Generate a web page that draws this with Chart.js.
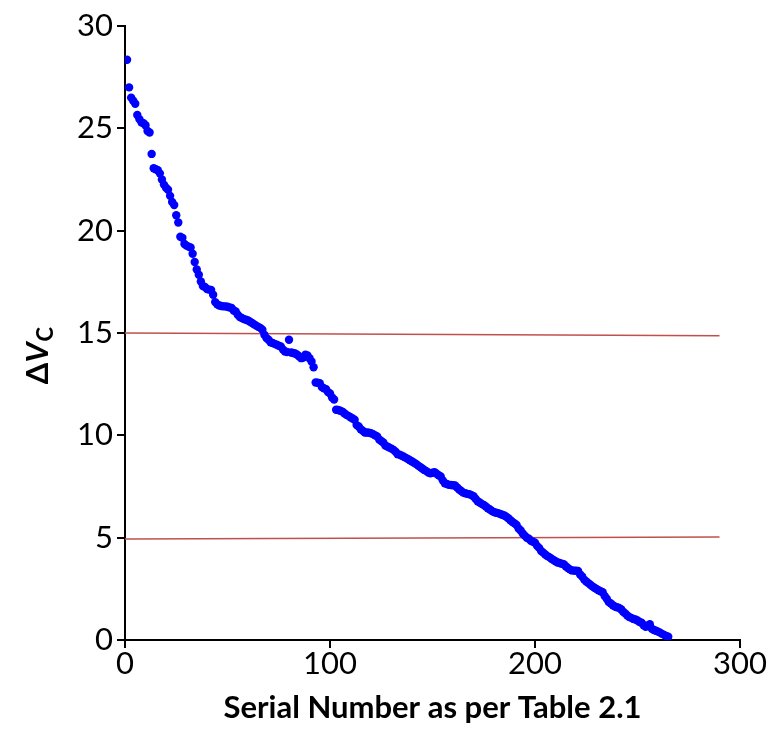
<!DOCTYPE html>
<html>
<head>
<meta charset="utf-8">
<script src="https://cdn.jsdelivr.net/npm/chart.js@4/dist/chart.umd.min.js"></script>
<style>
    html, body { margin: 0; padding: 0; background: #fff; }
    #wrap { width: 773px; height: 745px; }
</style>
</head>
<body>
<div id="wrap"><canvas id="dvcChart" width="773" height="745"></canvas></div>
<script>
// Delta Vc values, one per serial number (1 .. 265)
const dVc = [
    28.35, 27.0, 26.5, 26.35, 26.2, 25.65, 25.45, 25.3, 25.25, 25.15,
    24.87, 24.8, 23.75, 23.05, 23.0, 22.95, 22.8, 22.5, 22.25, 22.1,
    22.0, 21.7, 21.4, 21.25, 20.75, 20.4, 19.7, 19.65, 19.35, 19.27,
    19.22, 19.18, 18.87, 18.47, 18.1, 17.85, 17.52, 17.3, 17.25, 17.15,
    17.12, 17.1, 16.87, 16.51, 16.4, 16.34, 16.32, 16.3, 16.3, 16.28,
    16.25, 16.22, 16.1, 16.05, 15.89, 15.78, 15.73, 15.68, 15.65, 15.61,
    15.55, 15.49, 15.42, 15.36, 15.3, 15.25, 15.16, 14.91, 14.75, 14.67,
    14.55, 14.51, 14.47, 14.43, 14.38, 14.34, 14.2, 14.1, 14.07, 14.67,
    14.05, 14.02, 14.0, 13.94, 13.85, 13.77, 13.8, 13.94, 13.9, 13.77,
    13.61, 13.33, 12.58, 12.57, 12.55, 12.36, 12.3, 12.26, 12.12, 12.05,
    11.85, 11.75, 11.25, 11.24, 11.2, 11.16, 11.08, 11.0, 10.95, 10.88,
    10.82, 10.76, 10.5, 10.43, 10.3, 10.22, 10.14, 10.14, 10.13, 10.1,
    10.06, 10.0, 9.95, 9.8, 9.72, 9.65, 9.5, 9.45, 9.4, 9.35,
    9.29, 9.2, 9.08, 9.05, 9.0, 8.95, 8.9, 8.84, 8.78, 8.72,
    8.66, 8.6, 8.52, 8.45, 8.38, 8.31, 8.25, 8.18, 8.15, 8.17,
    8.2, 8.12, 8.05, 7.99, 7.8, 7.66, 7.62, 7.58, 7.57, 7.56,
    7.55, 7.45, 7.35, 7.28, 7.2, 7.17, 7.14, 7.12, 7.08, 7.02,
    6.9, 6.78, 6.72, 6.65, 6.6, 6.52, 6.44, 6.38, 6.3, 6.25,
    6.22, 6.2, 6.16, 6.12, 6.08, 6.02, 5.95, 5.85, 5.77, 5.7,
    5.62, 5.45, 5.35, 5.2, 5.1, 5.0, 4.95, 4.85, 4.8, 4.75,
    4.6, 4.5, 4.35, 4.27, 4.18, 4.1, 4.05, 3.97, 3.91, 3.85,
    3.79, 3.76, 3.73, 3.7, 3.6, 3.52, 3.45, 3.4, 3.39, 3.38,
    3.37, 3.2, 3.1, 2.95, 2.86, 2.78, 2.7, 2.62, 2.55, 2.49,
    2.43, 2.38, 2.33, 2.15, 2.02, 1.85, 1.78, 1.7, 1.63, 1.6,
    1.57, 1.5, 1.38, 1.3, 1.2, 1.12, 1.08, 1.03, 1.0, 0.95,
    0.88, 0.84, 0.72, 0.65, 0.7, 0.77, 0.55, 0.49, 0.45, 0.41,
    0.36, 0.3, 0.25, 0.2, 0.16
];

// the two red reference lines (start / end of each)
const limitX = [0, 290];
const upperLimit = [15.0, 14.87];
const lowerLimit = [4.93, 5.03];

const xTicks = [0, 100, 200, 300];
const yTicks = [0, 5, 10, 15, 20, 25, 30];

const FONT = 'Lato, "Open Sans", sans-serif';

// y axis title: Delta, italic V, subscript C  (drawn by hand, Chart.js titles can't do rich text)
const yTitlePlugin = {
    id: 'yTitle',
    afterDraw(chart) {
        const ctx = chart.ctx;
        const midY = (chart.chartArea.top + chart.chartArea.bottom) / 2 + 23;
        ctx.save();
        ctx.translate(38, midY);
        ctx.rotate(-Math.PI / 2);
        ctx.fillStyle = '#000';
        ctx.textBaseline = 'alphabetic';
        const big = 'bold 31px ' + FONT;
        const bigIt = 'italic bold 31px ' + FONT;
        const small = 'bold 22px ' + FONT;
        ctx.font = big; const w1 = ctx.measureText('\u0394').width;
        ctx.font = bigIt; const w2 = ctx.measureText('V').width;
        ctx.font = small; const w3 = ctx.measureText('C').width;
        let x = -(w1 + w2 + w3) / 2;
        ctx.font = big; ctx.fillText('\u0394', x, 10); x += w1;
        ctx.font = bigIt; ctx.fillText('V', x, 10); x += w2;
        ctx.font = small; ctx.fillText('C', x + 1, 15);
        ctx.restore();
    }
};

const points = dVc.map((v, i) => ({ x: i + 1, y: v }));

new Chart(document.getElementById('dvcChart').getContext('2d'), {
    type: 'scatter',
    data: {
        datasets: [
            {
                data: points,
                backgroundColor: '#0000FF',
                borderWidth: 0,
                pointRadius: 4.2,
                pointHoverRadius: 4.2
            },
            {
                data: limitX.map((x, i) => ({ x: x, y: upperLimit[i] })),
                showLine: true,
                borderColor: '#C0504D',
                borderWidth: 1.5,
                pointRadius: 0
            },
            {
                data: limitX.map((x, i) => ({ x: x, y: lowerLimit[i] })),
                showLine: true,
                borderColor: '#C0504D',
                borderWidth: 1.5,
                pointRadius: 0
            }
        ]
    },
    options: {
        responsive: false,
        animation: false,
        layout: { padding: { top: 26, right: 33, left: 0, bottom: 0 } },
        plugins: { legend: { display: false }, tooltip: { enabled: false } },
        scales: {
            x: {
                min: 0, max: 300,
                afterBuildTicks: (s) => { s.ticks = xTicks.map(v => ({ value: v })); },
                afterFit: (s) => { s.height = 105; },
                border: { color: '#000', width: 2 },
                grid: { drawOnChartArea: false, drawTicks: true, tickLength: 8, color: '#000', lineWidth: 2 },
                ticks: { color: '#000', padding: 0, font: { family: FONT, size: 31, lineHeight: 1.0 } },
                title: {
                    display: true,
                    text: 'Serial Number as per Table 2.1',
                    color: '#000',
                    padding: { top: 4, bottom: 18 },
                    font: { family: FONT, size: 31, weight: 'bold' }
                }
            },
            y: {
                min: 0, max: 30,
                afterBuildTicks: (s) => { s.ticks = yTicks.map(v => ({ value: v })); },
                afterFit: (s) => { s.width = 125; },
                border: { color: '#000', width: 2 },
                grid: { drawOnChartArea: false, drawTicks: true, tickLength: 8, color: '#000', lineWidth: 2 },
                ticks: { color: '#000', padding: 4, font: { family: FONT, size: 31 } }
            }
        }
    },
    plugins: [yTitlePlugin]
});
</script>
</body>
</html>
